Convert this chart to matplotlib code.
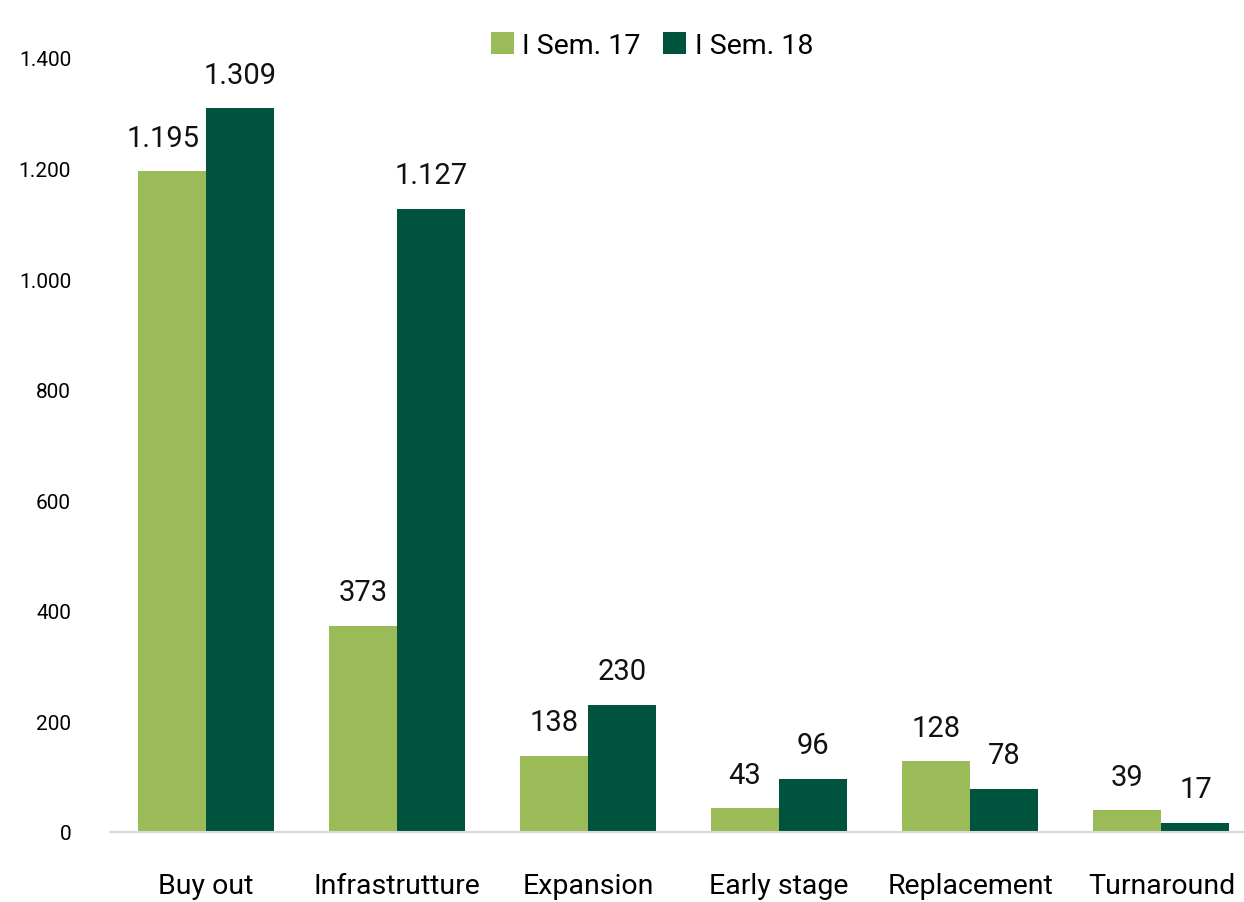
import numpy as np
import matplotlib.pyplot as plt
from matplotlib.ticker import FuncFormatter

plt.rcParams['font.family'] = ['Roboto', 'DejaVu Sans']

categories = ['Buy out', 'Infrastrutture', 'Expansion', 'Early stage', 'Replacement', 'Turnaround']
sem17 = [1195, 373, 138, 43, 128, 39]
sem18 = [1309, 1127, 230, 96, 78, 17]
series_names = ['I Sem. 17', 'I Sem. 18']
colors = ['#9BBB59', '#00533C']


def fmt(v):
    return f'{int(v):,}'.replace(',', '.')


fig = plt.figure(figsize=(12.44, 9.03), dpi=100)
ax = fig.add_axes([110 / 1244, 70 / 903, 1147 / 1244, 774 / 903])

x = np.arange(len(categories))
w = 0.356
b1 = ax.bar(x - w / 2, sem17, w, color=colors[0], label=series_names[0])
b2 = ax.bar(x + w / 2, sem18, w, color=colors[1], label=series_names[1])

for bars, vals, dx in ((b1, sem17, -6), (b2, sem18, 0)):
    for rect, v in zip(bars, vals):
        ax.annotate(fmt(v), (rect.get_x() + rect.get_width() / 2, v),
                    xytext=(dx if v >= 1000 else 0, 14), textcoords='offset points',
                    ha='center', va='bottom', fontsize=21, color='#111111')

ax.set_xlim(-0.5, 5.5)
ax.set_ylim(0, 1400)
ax.set_yticks(range(0, 1401, 200))
ax.yaxis.set_major_formatter(FuncFormatter(lambda v, p: fmt(v)))
ax.set_xticks(x)
ax.set_xticklabels(categories, fontsize=20.5)
ax.tick_params(axis='y', length=0, labelsize=15, pad=28)
ax.tick_params(axis='x', length=0, pad=29)

for s in ('top', 'right', 'left'):
    ax.spines[s].set_visible(False)
ax.spines['bottom'].set_color('#d9d9d9')
ax.spines['bottom'].set_linewidth(1.5)

fig.legend(loc='upper center', bbox_to_anchor=(652 / 1244, 0.992), ncol=2,
           frameon=False, fontsize=20.5, handlelength=0.8, handleheight=0.8,
           handletextpad=0.3, columnspacing=0.8)

fig.savefig('out.png', dpi=100)
